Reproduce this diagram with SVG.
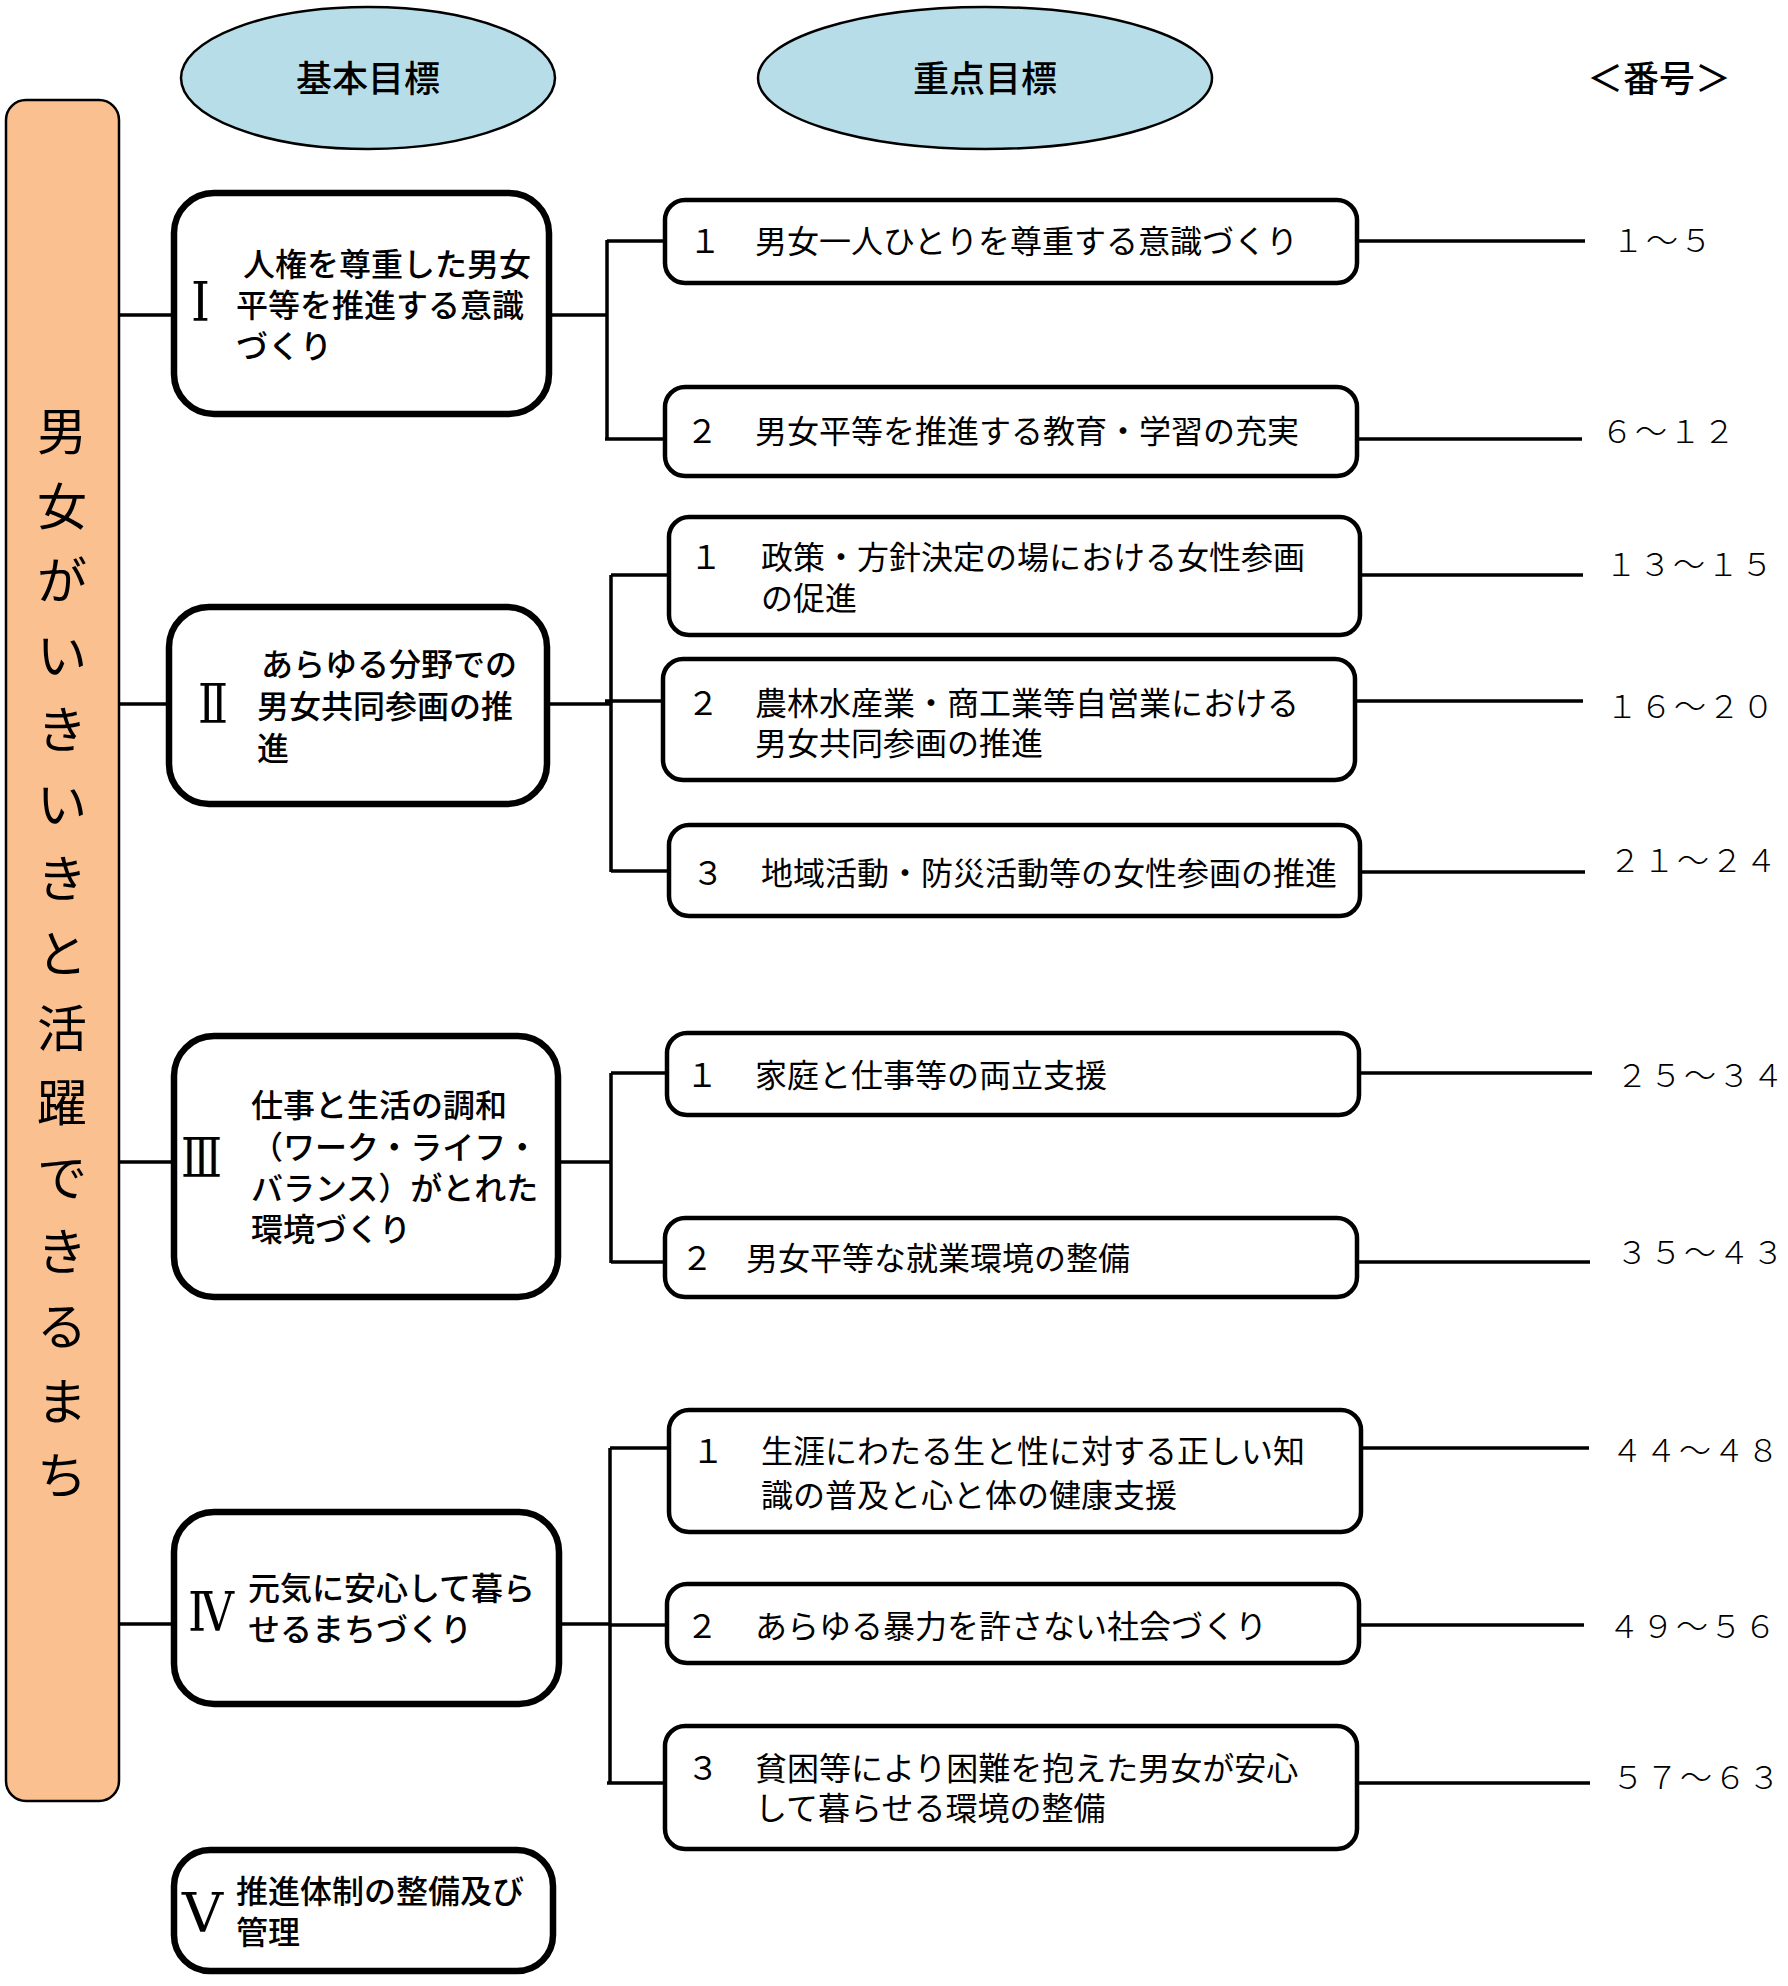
<svg xmlns="http://www.w3.org/2000/svg" width="1788" height="1986" viewBox="0 0 1788 1986">
<style>
.bg{fill:#ffffff}
.ell{fill:#B7DEE8;stroke:#000;stroke-width:2.5}
.bar{fill:#FAC090;stroke:#000;stroke-width:2.5}
.bb{fill:#fff;stroke:#000;stroke-width:6.5}
.gb{fill:#fff;stroke:#000;stroke-width:4.5}
.ln{fill:none;stroke:#000;stroke-width:3.5}
.jp{font-family:"Noto Sans CJK JP","Noto Sans",sans-serif;fill:#000}
.hd{font-size:36px;font-weight:500}
.bt{font-size:32px;font-weight:500}
.gt{font-size:32px;font-weight:400}
.nm{font-size:32px;font-weight:300;letter-spacing:2px}
.vt{font-size:50px;font-weight:400}
.rm{font-family:"DejaVu Serif","Liberation Serif",serif;font-size:54px;fill:#000}
</style>
<rect class="bg" x="0" y="0" width="1788" height="1986"/>

<g id="headers">
<g id="h-basic"><ellipse class="ell" cx="368" cy="78" rx="187" ry="71"/><text class="jp hd" x="368" y="92" text-anchor="middle">基本目標</text></g>
<g id="h-focus"><ellipse class="ell" cx="985" cy="78" rx="227" ry="71"/><text class="jp hd" x="985" y="92" text-anchor="middle">重点目標</text></g>
<g id="h-num"><text class="jp hd" x="1659" y="92" text-anchor="middle">＜番号＞</text></g>
</g>

<g id="connectors">
<path class="ln" d="M119 315H171M119 704H166M119 1162H171M119 1624H171"/>
<path class="ln" d="M552 315H607M607 240V440M607 241H663M605 439H663"/>
<path class="ln" d="M550 704H611M611 575V872M611 575H667M605 701H661M611 871H667"/>
<path class="ln" d="M561 1162H611M611 1073V1263M611 1073H665M611 1262H663"/>
<path class="ln" d="M562 1624H610M610 1448V1783M610 1448H667M610 1625H665M607 1783H663"/>
<path class="ln" d="M1359 241H1585M1359 439H1582M1362 575H1583M1357 701H1583M1362 872H1585M1361 1073H1592M1359 1262H1590M1363 1448H1589M1361 1625H1584M1359 1783H1590"/>
</g>

<g id="vision">
<rect class="bar" x="6" y="100" width="113" height="1701" rx="20"/>
<text class="jp vt" text-anchor="middle">
<tspan x="62" y="450">男</tspan><tspan x="62" y="525">女</tspan><tspan x="62" y="599">が</tspan><tspan x="62" y="674">い</tspan><tspan x="62" y="748">き</tspan><tspan x="62" y="823">い</tspan><tspan x="62" y="897">き</tspan><tspan x="62" y="972">と</tspan><tspan x="62" y="1047">活</tspan><tspan x="62" y="1121">躍</tspan><tspan x="62" y="1196">で</tspan><tspan x="62" y="1270">き</tspan><tspan x="62" y="1345">る</tspan><tspan x="62" y="1420">ま</tspan><tspan x="62" y="1494">ち</tspan>
</text>
</g>

<g id="basic-1">
<rect class="bb" x="174" y="193" width="375" height="221" rx="40"/>
<text class="rm" x="191" y="321" textLength="19" lengthAdjust="spacingAndGlyphs">Ⅰ</text>
<text class="jp bt"><tspan x="243" y="276">人権を尊重した男女</tspan><tspan x="236" y="317">平等を推進する意識</tspan><tspan x="236" y="358">づくり</tspan></text>
</g>
<g id="basic-2">
<rect class="bb" x="169" y="607" width="378" height="197" rx="40"/>
<text class="rm" x="198" y="723" textLength="30" lengthAdjust="spacingAndGlyphs">Ⅱ</text>
<text class="jp bt"><tspan x="261" y="676">あらゆる分野での</tspan><tspan x="257" y="718">男女共同参画の推</tspan><tspan x="257" y="760">進</tspan></text>
</g>
<g id="basic-3">
<rect class="bb" x="174" y="1036" width="384" height="261" rx="40"/>
<text class="rm" x="181" y="1177" textLength="41" lengthAdjust="spacingAndGlyphs">Ⅲ</text>
<text class="jp bt"><tspan x="251" y="1117">仕事と生活の調和</tspan><tspan x="251" y="1159">（ワーク・ライフ・</tspan><tspan x="251" y="1200">バランス）がとれた</tspan><tspan x="251" y="1241">環境づくり</tspan></text>
</g>
<g id="basic-4">
<rect class="bb" x="174" y="1512" width="385" height="192" rx="40"/>
<text class="rm" x="188" y="1631" textLength="46" lengthAdjust="spacingAndGlyphs">Ⅳ</text>
<text class="jp bt"><tspan x="248" y="1600">元気に安心して暮ら</tspan><tspan x="248" y="1641">せるまちづくり</tspan></text>
</g>
<g id="basic-5">
<rect class="bb" x="174" y="1850" width="379" height="121" rx="36"/>
<text class="rm" x="182" y="1932" textLength="41" lengthAdjust="spacingAndGlyphs">Ⅴ</text>
<text class="jp bt"><tspan x="236" y="1903">推進体制の整備及び</tspan><tspan x="236" y="1944">管理</tspan></text>
</g>

<g id="goal-1-1">
<rect class="gb" x="665" y="200" width="692" height="83" rx="20"/>
<text class="jp gt"><tspan x="689" y="253">１</tspan><tspan x="755" y="253">男女一人ひとりを尊重する意識づくり</tspan></text>
</g>
<g id="goal-1-2">
<rect class="gb" x="665" y="387" width="692" height="89" rx="20"/>
<text class="jp gt"><tspan x="686" y="443">２</tspan><tspan x="755" y="443">男女平等を推進する教育・学習の充実</tspan></text>
</g>
<g id="goal-2-1">
<rect class="gb" x="669" y="517" width="691" height="118" rx="20"/>
<text class="jp gt"><tspan x="690" y="569">１</tspan><tspan x="761" y="569">政策・方針決定の場における女性参画</tspan><tspan x="761" y="610">の促進</tspan></text>
</g>
<g id="goal-2-2">
<rect class="gb" x="663" y="659" width="692" height="121" rx="20"/>
<text class="jp gt"><tspan x="687" y="715">２</tspan><tspan x="755" y="715">農林水産業・商工業等自営業における</tspan><tspan x="755" y="755">男女共同参画の推進</tspan></text>
</g>
<g id="goal-2-3">
<rect class="gb" x="669" y="825" width="691" height="91" rx="20"/>
<text class="jp gt"><tspan x="692" y="885">３</tspan><tspan x="761" y="885">地域活動・防災活動等の女性参画の推進</tspan></text>
</g>
<g id="goal-3-1">
<rect class="gb" x="667" y="1033" width="692" height="82" rx="20"/>
<text class="jp gt"><tspan x="686" y="1087">１</tspan><tspan x="755" y="1087">家庭と仕事等の両立支援</tspan></text>
</g>
<g id="goal-3-2">
<rect class="gb" x="665" y="1218" width="692" height="79" rx="20"/>
<text class="jp gt"><tspan x="681" y="1270">２</tspan><tspan x="746" y="1270">男女平等な就業環境の整備</tspan></text>
</g>
<g id="goal-4-1">
<rect class="gb" x="669" y="1410" width="692" height="122" rx="20"/>
<text class="jp gt"><tspan x="692" y="1463">１</tspan><tspan x="761" y="1463">生涯にわたる生と性に対する正しい知</tspan><tspan x="761" y="1507">識の普及と心と体の健康支援</tspan></text>
</g>
<g id="goal-4-2">
<rect class="gb" x="667" y="1584" width="692" height="79" rx="20"/>
<text class="jp gt"><tspan x="686" y="1638">２</tspan><tspan x="755" y="1638">あらゆる暴力を許さない社会づくり</tspan></text>
</g>
<g id="goal-4-3">
<rect class="gb" x="665" y="1726" width="692" height="123" rx="20"/>
<text class="jp gt"><tspan x="687" y="1780">３</tspan><tspan x="755" y="1780">貧困等により困難を抱えた男女が安心</tspan><tspan x="755" y="1820">して暮らせる環境の整備</tspan></text>
</g>

<g id="numbers">
<text class="jp nm" x="1612" y="252">１～５</text>
<text class="jp nm" x="1601" y="443">６～１２</text>
<text class="jp nm" x="1605" y="576">１３～１５</text>
<text class="jp nm" x="1606" y="718">１６～２０</text>
<text class="jp nm" x="1609" y="872">２１～２４</text>
<text class="jp nm" x="1616" y="1087">２５～３４</text>
<text class="jp nm" x="1616" y="1264">３５～４３</text>
<text class="jp nm" x="1611" y="1462">４４～４８</text>
<text class="jp nm" x="1608" y="1638">４９～５６</text>
<text class="jp nm" x="1612" y="1789">５７～６３</text>
</g>
</svg>
